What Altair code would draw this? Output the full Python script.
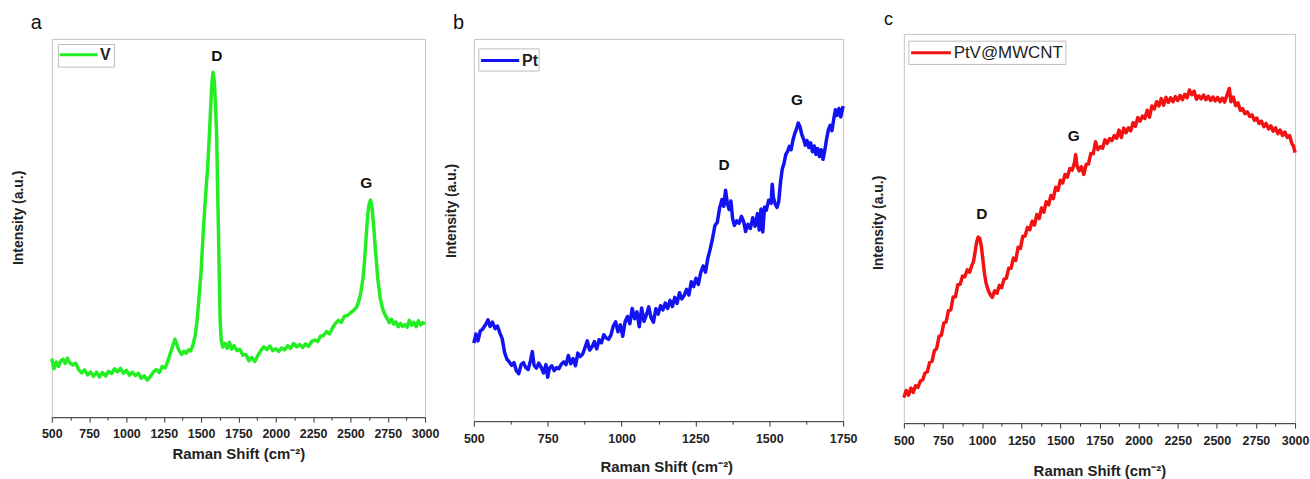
import altair as alt
import pandas as pd

FONT = "Liberation Sans"

# ---------- (a) V ----------
v_shift = [500, 515, 530, 545, 560, 575, 590, 605, 620, 640, 660, 680, 700, 720, 740, 760, 780,
           800, 820, 840, 860, 880, 900, 920, 940, 960, 980, 1000, 1020, 1040, 1060, 1080, 1100,
           1120, 1140, 1160, 1180, 1200, 1220, 1240, 1260, 1280, 1300, 1315, 1325, 1335, 1350,
           1369, 1385, 1400, 1415, 1430, 1445, 1460, 1472, 1485, 1500, 1516, 1530, 1545, 1556,
           1565, 1573, 1580, 1588, 1596, 1604, 1610, 1616, 1622, 1628, 1635, 1645, 1660, 1675,
           1690, 1705, 1720, 1740, 1760, 1780, 1800, 1820, 1840, 1860, 1880, 1900, 1920, 1940,
           1960, 1980, 2000, 2020, 2040, 2060, 2080, 2100, 2120, 2140, 2160, 2180, 2200, 2220,
           2240, 2260, 2280, 2300, 2320, 2340, 2360, 2380, 2400, 2420, 2440, 2460, 2480, 2500,
           2520, 2540, 2555, 2570, 2584, 2596, 2606, 2616, 2626, 2635, 2645, 2656, 2668, 2684,
           2700, 2715, 2728, 2745, 2760, 2775, 2790, 2805, 2820, 2835, 2850, 2865, 2880, 2895,
           2910, 2925, 2940, 2955, 2970, 2985, 3000]
v_intensity = [15.5, 12.8, 14.6, 13.4, 14.9, 15.3, 14.2, 15.6, 14.4, 13.8, 14.3, 12.6, 11.7, 12.5,
               11.2, 11.9, 10.8, 11.9, 10.6, 11.8, 10.9, 12.1, 11.5, 12.8, 12.0, 12.9, 11.6, 12.4,
               11.1, 11.9, 11.0, 11.6, 10.3, 10.9, 9.8, 10.7, 11.9, 12.6, 11.8, 13.4, 13.0, 15.2,
               17.6, 19.4, 20.6, 19.6, 17.8, 16.6, 17.4, 16.9, 17.8, 17.5, 19.0, 21.5, 25.0, 31.0,
               38.5, 50.0, 58.5, 66.5, 75.0, 82.5, 88.5, 91.2, 89.0, 83.0, 75.0, 62.0, 50.0, 37.0,
               25.0, 20.5, 18.5, 19.5, 18.2, 19.8, 18.0, 18.9, 17.6, 17.9, 16.4, 16.6, 14.9, 15.8,
               14.7, 16.3, 17.6, 18.6, 17.9, 18.8, 17.6, 18.1, 17.4, 18.3, 17.8, 18.9, 18.2, 19.5,
               18.6, 19.2, 18.4, 19.4, 18.7, 20.0, 20.4, 20.0, 21.4, 21.6, 22.6, 22.0, 23.6, 24.8,
               25.6, 25.1, 26.7, 26.9, 27.5, 28.2, 29.0, 30.5, 33.0, 36.5, 42.0, 48.0, 53.5, 56.5,
               57.4, 55.5, 50.5, 44.0, 36.3, 31.5, 28.8, 27.4, 26.2, 25.0, 25.9, 24.6, 25.2, 23.9,
               24.8, 24.0, 24.5, 23.8, 25.6, 24.3, 25.1, 23.9, 25.5, 24.4, 25.0, 24.6]
v_peaks = ["D", "G"]
v_peak_shift = [1605, 2606]
v_peak_level = [95.4, 61.8]

# ---------- (b) Pt ----------
pt_shift = [500, 507, 514, 522, 530, 540, 548, 555, 563, 572, 580, 588, 596, 604, 612, 620, 628,
            636, 644, 652, 660, 668, 676, 684, 692, 698, 704, 712, 720, 728, 736, 744, 750, 756,
            764, 772, 780, 788, 796, 804, 812, 820, 828, 836, 844, 852, 860, 868, 876, 884, 892,
            900, 908, 916, 924, 932, 940, 948, 956, 964, 972, 980, 988, 996, 1004, 1012, 1020,
            1028, 1036, 1044, 1052, 1060, 1068, 1076, 1084, 1092, 1100, 1108, 1116, 1124, 1132,
            1140, 1148, 1156, 1164, 1172, 1180, 1188, 1196, 1204, 1212, 1220, 1228, 1236, 1244,
            1252, 1260, 1268, 1276, 1284, 1292, 1300, 1308, 1316, 1324, 1332, 1340, 1346, 1352,
            1358, 1364, 1370, 1376, 1382, 1390, 1398, 1406, 1414, 1420, 1428, 1436, 1444, 1452,
            1460, 1466, 1472, 1478, 1484, 1490, 1498, 1506, 1510, 1514, 1520, 1526, 1532, 1538,
            1544, 1550, 1556, 1562, 1568, 1574, 1580, 1586, 1592, 1598, 1604, 1610, 1616, 1622,
            1628, 1634, 1640, 1646, 1652, 1658, 1664, 1670, 1676, 1682, 1688, 1694, 1700, 1706,
            1712, 1718, 1724, 1730, 1736, 1742, 1750]
pt_intensity = [20.4, 22.8, 21.0, 23.6, 24.1, 25.3, 26.5, 24.8, 25.9, 24.2, 24.9, 23.1, 21.6, 18.0,
                16.2, 15.5, 14.6, 15.3, 13.2, 12.4, 14.8, 15.3, 14.0, 13.5, 15.9, 18.2, 14.6, 13.9,
                15.2, 14.1, 12.6, 14.8, 11.5, 13.9, 14.5, 13.2, 14.0, 13.7, 14.9, 15.5, 14.8, 17.2,
                15.0, 16.4, 14.5, 17.8, 16.9, 17.5, 19.2, 21.0, 18.6, 19.4, 20.8, 18.9, 21.3, 20.5,
                22.6, 21.8, 21.4, 22.5, 24.9, 26.0, 23.4, 25.2, 22.2, 26.0, 27.4, 25.5, 29.5, 26.8,
                28.6, 24.7, 29.6, 26.1, 27.8, 29.9, 27.0, 25.9, 29.4, 28.0, 30.2, 29.1, 30.9, 29.5,
                31.6, 30.0, 32.4, 30.8, 33.6, 32.0, 32.9, 34.5, 33.0, 36.5, 35.2, 37.4, 35.8, 38.9,
                40.6, 39.0, 42.6, 45.0, 47.8, 51.2, 52.0, 55.8, 58.0, 56.2, 60.4, 57.0, 55.4, 57.6,
                53.0, 51.2, 52.4, 51.8, 53.6, 52.0, 49.6, 51.5, 50.4, 53.2, 51.0, 54.3, 50.0, 55.5,
                49.5, 56.0, 55.2, 57.8, 57.0, 62.0, 58.5, 56.8, 55.9, 57.4, 62.5, 66.0, 67.5, 69.8,
                70.6, 71.9, 71.0, 73.5, 75.2, 76.4, 78.0, 77.0, 75.0, 73.8, 72.2, 73.4, 71.6, 72.8,
                70.5, 72.0, 69.8, 71.3, 69.2, 71.0, 68.5, 70.9, 73.8, 76.2, 77.4, 76.0, 78.9, 81.5,
                80.0, 81.8, 79.6, 82.4]
pt_peaks = ["D", "G"]
pt_peak_shift = [1347, 1594]
pt_peak_level = [67.1, 83.9]

# ---------- (c) PtV@MWCNT ----------
ptv_shift = [500, 515, 530, 545, 560, 575, 590, 605, 620, 635, 650, 665, 680, 695, 710, 725, 740,
             755, 770, 785, 800, 815, 830, 845, 860, 875, 890, 905, 920, 935, 945, 955, 965, 975,
             985, 995, 1005, 1015, 1025, 1040, 1055, 1065, 1080, 1095, 1110, 1125, 1140, 1155,
             1170, 1185, 1200, 1215, 1230, 1245, 1260, 1275, 1290, 1305, 1320, 1335, 1350, 1365,
             1380, 1395, 1410, 1425, 1440, 1455, 1470, 1485, 1500, 1515, 1530, 1545, 1560, 1575,
             1590, 1598, 1606, 1620, 1635, 1650, 1665, 1680, 1695, 1710, 1725, 1740, 1755, 1770,
             1785, 1800, 1815, 1830, 1845, 1860, 1875, 1890, 1905, 1920, 1935, 1950, 1965, 1980,
             1995, 2010, 2025, 2040, 2055, 2070, 2085, 2100, 2115, 2130, 2145, 2160, 2175, 2190,
             2205, 2220, 2235, 2250, 2265, 2280, 2295, 2310, 2325, 2340, 2355, 2370, 2385, 2400,
             2415, 2430, 2445, 2460, 2475, 2490, 2505, 2520, 2535, 2550, 2565, 2580, 2590, 2605,
             2620, 2635, 2650, 2665, 2680, 2695, 2710, 2725, 2740, 2755, 2770, 2785, 2800, 2815,
             2830, 2845, 2860, 2875, 2890, 2905, 2920, 2935, 2950, 2965, 2980, 2990, 3000]
ptv_intensity = [6.6, 8.4, 7.2, 9.0, 7.9, 9.6, 9.2, 10.8, 11.1, 12.9, 13.2, 15.6, 15.9, 18.6, 19.2,
                 22.3, 22.6, 25.7, 26.0, 28.9, 29.1, 32.4, 32.5, 35.6, 35.7, 37.8, 37.6, 39.4, 38.8,
                 40.6, 41.5, 44.0, 46.5, 47.8, 47.5, 45.5, 42.0, 38.5, 36.0, 34.0, 32.8, 32.3, 34.0,
                 33.4, 35.4, 34.8, 37.0, 37.2, 39.8, 39.8, 42.4, 41.8, 45.2, 44.9, 48.0, 48.1, 50.3,
                 49.7, 51.9, 50.9, 53.6, 52.6, 55.3, 54.2, 56.9, 56.1, 58.5, 57.7, 60.6, 59.8, 62.4,
                 61.7, 63.9, 63.2, 65.4, 65.0, 66.8, 69.0, 66.2, 64.8, 65.9, 63.9, 66.5, 66.6, 69.3,
                 69.2, 72.3, 70.3, 71.0, 70.6, 72.8, 71.9, 73.1, 72.6, 73.9, 73.2, 75.3, 73.4, 75.8,
                 74.6, 75.9, 75.1, 77.2, 76.3, 78.5, 77.6, 78.9, 78.3, 80.4, 78.6, 81.5, 80.7, 82.6,
                 81.5, 83.4, 81.7, 83.7, 82.4, 83.6, 82.6, 83.9, 82.9, 84.2, 83.1, 84.5, 83.6, 85.6,
                 84.4, 85.3, 83.2, 84.1, 83.3, 84.3, 83.1, 84.0, 82.9, 83.8, 82.8, 83.7, 82.6, 83.5,
                 82.5, 84.3, 86.0, 82.6, 83.8, 81.6, 82.3, 80.4, 80.8, 79.5, 80.0, 78.8, 79.2, 77.8,
                 78.4, 77.0, 77.6, 76.2, 77.0, 75.6, 76.4, 75.0, 75.9, 74.4, 75.3, 73.9, 74.8, 73.4,
                 73.9, 71.8, 71.2, 69.5]
ptv_peaks = ["D", "G"]
ptv_peak_shift = [998, 1586]
ptv_peak_level = [53.8, 73.8]

# axis tick positions (labels every 250, minor ticks in between)
ticks_wide = [500, 625, 750, 875, 1000, 1125, 1250, 1375, 1500, 1625, 1750, 1875, 2000, 2125,
              2250, 2375, 2500, 2625, 2750, 2875, 3000]
ticks_narrow = [500, 625, 750, 875, 1000, 1125, 1250, 1375, 1500, 1625, 1750]

X_TITLE = "Raman Shift (cm\u207b\u00b2)"
Y_TITLE = "Intensity (a.u.)"


def panel(letter, name, color, shift, level, peaks, peak_shift, peak_level, domain, ticks,
          width, height, legend_box, legend_line, legend_text_x, legend_bold, legend_size,
          x_title_x, x_title_y, y_title_x, y_title_y, label_pad, title_dx, title_offset,
          title_size):
    spectrum = pd.DataFrame({"shift": shift, "intensity": level})
    marks = pd.DataFrame({"shift": peak_shift, "intensity": peak_level, "peak": peaks})

    x_axis = alt.Axis(
        title=X_TITLE, values=ticks, format="d",
        labelExpr="datum.value % 250 === 0 ? datum.label : ''",
        labelFont=FONT, labelFontSize=12.5, labelFontWeight="bold", labelColor="#222",
        labelFlush=False, labelOverlap=False, labelPadding=label_pad,
        tickColor="#333", tickWidth=1,
        tickSize={"condition": {"test": "datum.value % 250 === 0", "value": 5}, "value": 3},
        domainColor="#333", domainWidth=1, grid=False,
        titleFont=FONT, titleFontSize=15, titleFontWeight="bold", titleColor="#222",
        titleX=x_title_x, titleY=x_title_y, titleBaseline="middle",
    )
    y_axis = alt.Axis(
        title=Y_TITLE, labels=False, ticks=False, domain=False, grid=False,
        titleFont=FONT, titleFontSize=14, titleFontWeight="bold", titleColor="#222",
        titleX=y_title_x, titleY=y_title_y, titleBaseline="middle",
    )
    x_enc = alt.X("shift:Q", scale=alt.Scale(domain=domain, nice=False, zero=False), axis=x_axis)
    y_enc = alt.Y("intensity:Q", scale=alt.Scale(domain=[0, 100], nice=False), axis=y_axis)

    line = alt.Chart(spectrum).mark_line(color=color, strokeWidth=3.5, strokeJoin="round").encode(
        x=x_enc, y=y_enc)
    tags = alt.Chart(marks).mark_text(font=FONT, fontSize=15.5, fontWeight="bold",
                                      color="#111").encode(
        x=x_enc, y=y_enc, text="peak:N")

    key = pd.DataFrame({"series": [name]})
    bx0, by0, bx1, by1 = legend_box
    lx0, lx1, ly = legend_line
    box = alt.Chart(key).mark_rect(fill="white", stroke="#bdbdbd", strokeWidth=1).encode(
        x=alt.value(bx0), x2=alt.value(bx1), y=alt.value(by0), y2=alt.value(by1))
    swatch = alt.Chart(key).mark_rule(color=color, strokeWidth=3).encode(
        x=alt.value(lx0), x2=alt.value(lx1), y=alt.value(ly))
    key_text = alt.Chart(key).mark_text(
        font=FONT, fontSize=legend_size, fontWeight="bold" if legend_bold else "normal",
        color="#222", align="left", baseline="middle").encode(
        x=alt.value(legend_text_x), y=alt.value(ly + 0.5), text="series:N")

    return alt.layer(line, tags, box, swatch, key_text).properties(
        width=width, height=height,
        title=alt.TitleParams(letter, anchor="start", frame="group", dx=title_dx,
                              offset=title_offset, font=FONT, fontSize=title_size,
                              fontWeight="normal", color="#111"),
    )


panel_a = panel("a", "V", "#22ee22", v_shift, v_intensity, v_peaks, v_peak_shift, v_peak_level,
                [500, 3000], ticks_wide, 375, 380,
                (6.7, 5.6, 63, 28.3), (8, 46, 15.8), 48.5, True, 16,
                187.4, 36.5, -33, 179.3, 5.5, -21, 6, 20)
panel_b = panel("b", "Pt", "#1212f2", pt_shift, pt_intensity, pt_peaks, pt_peak_shift,
                pt_peak_level, [500, 1750], ticks_narrow, 371, 384,
                (5, 10, 65.6, 32.3), (7.3, 45.6, 21.6), 48.5, True, 16,
                193.3, 46, -22.7, 172.3, 6, -21, 6, 20)
panel_c = panel("c", "PtV@MWCNT", "#f21212", ptv_shift, ptv_intensity, ptv_peaks,
                ptv_peak_shift, ptv_peak_level, [500, 3000], ticks_wide, 393, 391,
                (5, 7.3, 162.8, 30.6), (7.3, 47.3, 19), 50, False, 17,
                196.5, 48, -25.7, 189.3, 6.5, -20, 4.7, 18)

# a thin empty strip that sets panels (a) and (b) a little lower than (c)
strip = alt.Chart(pd.DataFrame({"series": [""]})).mark_point(size=0, opacity=0).encode(
    x=alt.value(20), y=alt.value(2)
).properties(width=20, height=5, view=alt.ViewBackground(strokeOpacity=0))

chart = alt.hconcat(
    alt.vconcat(strip, alt.hconcat(panel_a, panel_b, spacing=3), spacing=0, bounds="flush"),
    panel_c, spacing=12,
).properties(
    padding={"left": 11, "top": 9, "right": 0, "bottom": 0},
    background="white",
).configure_view(stroke="#c4c4c4", strokeWidth=1)

chart.save("out.html", embed_options={"renderer": "svg", "actions": False})
